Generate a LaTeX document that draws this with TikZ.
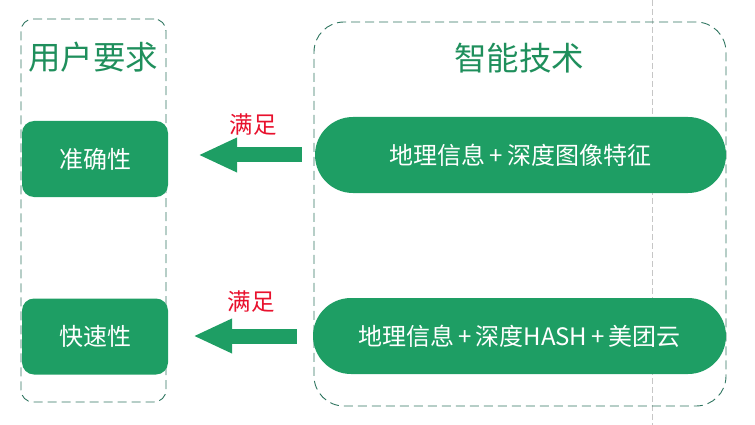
\documentclass[tikz,border=0pt]{standalone}
\usepackage{fontspec}
\setmainfont{Noto Sans CJK SC}
\usetikzlibrary{arrows.meta, positioning}
\definecolor{MTGreen}{HTML}{1E9E64}
\definecolor{MTFrame}{HTML}{2F7560}
\definecolor{MTTitle}{HTML}{1F8F5C}
\definecolor{MTRed}{HTML}{E8112D}

\begin{document}
\begin{tikzpicture}[x=1pt, y=-1pt,
    frame/.style={draw=MTFrame, dash pattern=on 9pt off 5pt, line width=0.9pt, inner sep=0pt},
    req/.style={rectangle, rounded corners=12pt, fill=MTGreen, text=white, minimum width=146pt, minimum height=76pt, font=\fontsize{24}{28}\selectfont},
    tech/.style={rectangle, rounded corners=38pt, fill=MTGreen, text=white, minimum width=411pt, minimum height=76pt, font=\fontsize{24}{28}\selectfont},
    title/.style={text=MTTitle, font=\fontsize{32.5}{36}\selectfont},
    sat/.style={text=MTRed, font=\fontsize{23.5}{26}\selectfont},
    fat/.style={draw=MTGreen, line width=15pt, -{Triangle[length=39pt, width=32pt]}}]
    \useasboundingbox (0,0) rectangle (755,425);
    % guide line
    \draw[gray!45, dash pattern=on 6pt off 3pt, line width=0.5pt] (652,0) -- (652,425);

    \node[frame, rounded corners=12pt, minimum width=145pt, minimum height=383pt] (userbox) at (93.5,210.5) {};
    \node[frame, rounded corners=30pt, minimum width=412pt, minimum height=384pt] (techbox) at (520,214) {};

    \node[title] (usertitle) at (93,57) {用户要求};
    \node[title] (techtitle) at (519,58) {智能技术};

    \node[req] (acc) at (95,159) {准确性};
    \node[req] (fast) at (95,336.5) {快速性};
    \node[tech] (geoimg) at (520.5,155) {地理信息\,+\,深度图像特征};
    \node[tech, minimum width=413pt] (geohash) at (519.5,336) {地理信息\,+\,深度HASH\,+\,美团云};

    \draw[fat, shorten <=13pt, shorten >=30pt] (geoimg.west) -- (acc.east |- geoimg.west);
    \draw[fat, shorten <=16pt, shorten >=25pt] (geohash.west) -- (fast.east |- geohash.west);

    \node[sat] (ok1) at (253,125) {满足};
    \node[sat] (ok2) at (251,302) {满足};
\end{tikzpicture}
\end{document}
